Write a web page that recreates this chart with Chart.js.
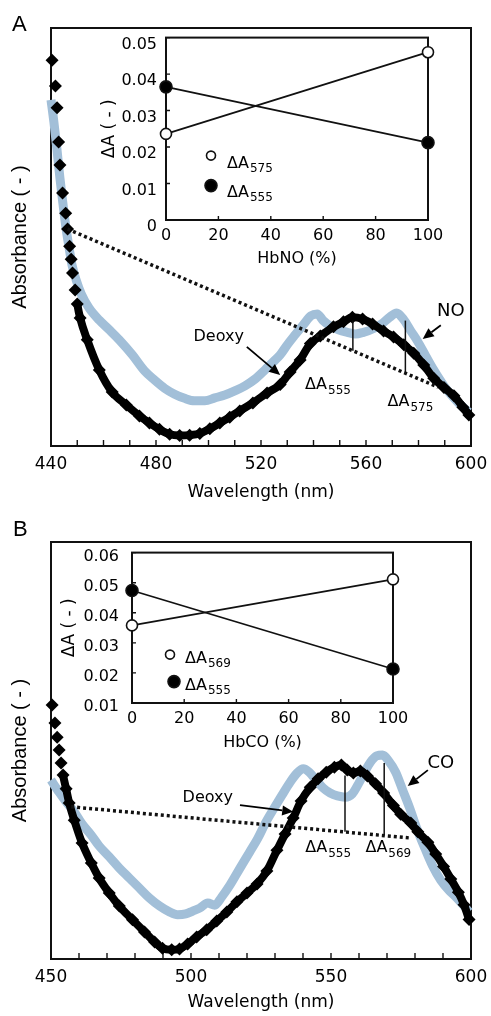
<!DOCTYPE html>
<html>
<head>
<meta charset="utf-8">
<title>Deoxy / NO / CO difference spectra</title>
<script src="https://cdn.jsdelivr.net/npm/chart.js@4.4.1/dist/chart.umd.min.js"></script>
<style>
  body { margin: 0; background: #fff; }
  #fig { position: relative; width: 491px; height: 1016px; overflow: hidden; }
  #fig canvas { position: absolute; }
  .panel { position: absolute; font: 22px "Liberation Sans", Arial, sans-serif; color: #000; }
</style>
</head>
<body>
<div id="fig">
  <canvas id="mainA" width="491" height="508" style="left:0;top:0"></canvas>
  <canvas id="insetA" width="353" height="240" style="left:95px;top:30px"></canvas>
  <canvas id="mainB" width="491" height="508" style="left:0;top:508px"></canvas>
  <canvas id="insetB" width="358" height="210" style="left:55px;top:545px"></canvas>
  <div class="panel" style="left:12px;top:11px">A</div>
  <div class="panel" style="left:13px;top:516px">B</div>
</div>
<script>
// ---- panel A: deoxy vs NO-bound spectra ----
const wlDeoxyA = [440.4, 441.7, 442.3, 442.9, 443.4, 444.4, 445.6, 446.3, 447.1, 447.7, 448.2, 449.2, 450.0, 451.1,
  453.8, 458.4, 463.3, 468.7, 473.7, 477.5, 481.3, 485.2, 489.0, 492.8, 496.7, 500.5, 504.3, 508.1, 511.9, 516.9,
  522.3, 527.3, 531.1, 534.9, 538.8, 542.6, 547.6, 551.4, 554.8, 558.7, 562.5, 566.7, 570.5, 574.4, 578.2, 582.0,
  585.8, 589.7, 593.5, 596.9, 599.2];
const absDeoxyA = [0.923, 0.861, 0.809, 0.727, 0.672, 0.605, 0.557, 0.519, 0.478, 0.447, 0.414, 0.373, 0.340, 0.306,
  0.254, 0.182, 0.129, 0.098, 0.072, 0.055, 0.040, 0.028, 0.025, 0.026, 0.030, 0.041, 0.055, 0.069, 0.084, 0.103,
  0.127, 0.147, 0.177, 0.206, 0.245, 0.263, 0.285, 0.297, 0.308, 0.304, 0.292, 0.275, 0.261, 0.242, 0.222, 0.194,
  0.162, 0.140, 0.120, 0.093, 0.074];
const wlNoA = [440.0, 441.1, 442.3, 443.4, 444.6, 445.7, 446.9, 448.0, 449.6, 451.5, 454.5, 458.4, 462.2, 466.0,
  471.0, 475.6, 479.4, 483.3, 487.1, 490.9, 494.7, 498.6, 502.4, 506.2, 510.0, 513.9, 517.7, 521.5, 524.6, 527.3,
  530.0, 533.0, 536.1, 539.1, 541.4, 543.7, 546.4, 549.5, 552.9, 556.0, 559.0, 562.5, 565.9, 569.0, 571.7, 574.4,
  577.0, 579.7, 582.8, 585.8, 589.7, 593.5, 596.9, 599.2];
const absNoA = [0.828, 0.775, 0.708, 0.641, 0.577, 0.522, 0.474, 0.433, 0.397, 0.364, 0.330, 0.301, 0.278, 0.254,
  0.218, 0.180, 0.158, 0.138, 0.124, 0.114, 0.108, 0.108, 0.115, 0.122, 0.132, 0.144, 0.160, 0.182, 0.201, 0.218,
  0.242, 0.266, 0.290, 0.312, 0.316, 0.300, 0.287, 0.278, 0.272, 0.268, 0.272, 0.280, 0.292, 0.308, 0.318, 0.302,
  0.276, 0.250, 0.215, 0.182, 0.144, 0.115, 0.093, 0.081];
const baseWlA = [446.3, 587.4];
const baseAbsA = [0.519, 0.141];
const markWlA = [555, 575];
const markLowA = [0.228, 0.174];
const markTopA = [0.300, 0.300];
const labelTicksA = [440, 480, 520, 560, 600];

// inset A: difference absorbance vs HbNO fraction
const hbno = [0, 100];
const dA575 = [0.0236, 0.0460];
const dA555no = [0.0365, 0.0212];

// ---- panel B: deoxy vs CO-bound spectra ----
const wlDeoxyB = [450.4, 451.4, 452.2, 452.9, 453.6, 454.3, 455.4, 456.5, 458.3, 461.1, 464.4, 467.2, 470.8, 474.4,
  479.1, 483.4, 487.0, 489.8, 493.1, 495.9, 498.8, 502.0, 505.6, 509.2, 512.8, 516.4, 520.0, 523.6, 527.1, 530.7,
  533.6, 536.5, 539.3, 542.6, 545.4, 548.3, 551.2, 553.7, 555.8, 558.0, 560.5, 563.0, 565.9, 568.8, 572.3, 574.9,
  578.5, 581.0, 584.6, 587.4, 590.2, 592.8, 595.5, 597.5, 599.3];
const absDeoxyB = [0.609, 0.566, 0.532, 0.501, 0.470, 0.441, 0.408, 0.374, 0.333, 0.278, 0.230, 0.194, 0.158, 0.127,
  0.094, 0.065, 0.041, 0.026, 0.022, 0.024, 0.036, 0.053, 0.070, 0.091, 0.113, 0.137, 0.158, 0.180, 0.211, 0.261,
  0.300, 0.338, 0.379, 0.412, 0.432, 0.448, 0.460, 0.465, 0.453, 0.446, 0.451, 0.439, 0.420, 0.398, 0.368, 0.347,
  0.326, 0.305, 0.280, 0.252, 0.222, 0.192, 0.160, 0.130, 0.095];
const wlCoB = [450.0, 452.9, 455.4, 458.3, 461.1, 464.4, 467.2, 470.8, 474.4, 478.0, 481.6, 485.2, 488.8, 492.3,
  495.2, 498.1, 500.6, 503.1, 506.0, 508.5, 511.0, 513.9, 517.5, 521.0, 523.9, 526.8, 529.7, 532.5, 535.4, 537.9,
  540.1, 542.2, 544.7, 547.2, 549.7, 552.3, 555.1, 557.6, 559.8, 562.0, 564.1, 566.3, 568.4, 570.6, 573.1, 575.6,
  578.1, 580.6, 583.5, 586.3, 589.2, 592.1, 595.0, 597.5, 599.3];
const absCoB = [0.429, 0.400, 0.377, 0.353, 0.324, 0.297, 0.271, 0.245, 0.218, 0.194, 0.170, 0.146, 0.127, 0.113,
  0.106, 0.108, 0.115, 0.122, 0.134, 0.129, 0.149, 0.177, 0.218, 0.257, 0.290, 0.329, 0.362, 0.393, 0.424, 0.446,
  0.456, 0.448, 0.429, 0.410, 0.398, 0.391, 0.388, 0.396, 0.420, 0.448, 0.472, 0.487, 0.489, 0.475, 0.448, 0.405,
  0.362, 0.314, 0.266, 0.223, 0.189, 0.165, 0.146, 0.127, 0.113];
const baseWlB = [457.2, 578.5];
const baseAbsB = [0.365, 0.290];
const markWlB = [555, 569];
const markLowB = [0.305, 0.296];
const markTopB = [0.440, 0.470];
const labelTicksB = [450, 500, 550, 600];

// inset B: difference absorbance vs HbCO fraction
const hbco = [0, 100];
const dA569 = [0.0358, 0.0511];
const dA555co = [0.0474, 0.0213];

const FONT = '"DejaVu Sans", Verdana, sans-serif';
Chart.defaults.font.family = FONT;
Chart.defaults.color = '#000';

const pts = (xs, ys) => xs.map((x, i) => ({ x, y: ys[i] }));
// where the trace falls almost vertically the markers stand apart, so no joining line there
const steep = c => Math.abs(c.p1.y - c.p0.y) > 5 * Math.abs(c.p1.x - c.p0.x);

function subText(ctx, main, sub, x, y, size) {
  ctx.textAlign = 'left';
  ctx.textBaseline = 'middle';
  ctx.font = size + 'px ' + FONT;
  ctx.fillText(main, x, y);
  const w = ctx.measureText(main).width;
  ctx.font = Math.round(size * 0.72) + 'px ' + FONT;
  ctx.fillText(sub, x + w + 1, y + size * 0.35);
}

function arrow(ctx, x0, y0, x1, y1) {
  const a = Math.atan2(y1 - y0, x1 - x0);
  const head = 11, half = 5;
  const c = Math.cos(a), s = Math.sin(a);
  ctx.lineWidth = 1.8;
  ctx.beginPath();
  ctx.moveTo(x0, y0);
  ctx.lineTo(x1 - head * c, y1 - head * s);
  ctx.stroke();
  ctx.beginPath();
  ctx.moveTo(x1, y1);
  ctx.lineTo(x1 - head * c + half * s, y1 - head * s - half * c);
  ctx.lineTo(x1 - head * c - half * s, y1 - head * s + half * c);
  ctx.closePath();
  ctx.fill();
}

// box round the plot area with short inward ticks
const framePlugin = {
  id: 'frame',
  beforeDatasetsDraw(chart, args, opts) {
    const { ctx, chartArea: a, scales } = chart;
    ctx.save();
    ctx.strokeStyle = '#111';
    ctx.lineWidth = opts.lineWidth || 2;
    ctx.strokeRect(a.left, a.top, a.right - a.left, a.bottom - a.top);
    ctx.lineWidth = 1.4;
    ctx.beginPath();
    scales.x.ticks.forEach(t => {
      const px = scales.x.getPixelForValue(t.value);
      ctx.moveTo(px, a.bottom);
      ctx.lineTo(px, a.bottom - opts.tick);
    });
    if (opts.yTicks) {
      scales.y.ticks.forEach(t => {
        const py = scales.y.getPixelForValue(t.value);
        ctx.moveTo(a.left, py);
        ctx.lineTo(a.left + opts.tick, py);
      });
    }
    ctx.stroke();
    ctx.restore();
  }
};

// text labels and arrows placed in data coordinates
function notesPlugin(notes) {
  return {
    id: 'notes',
    afterDatasetsDraw(chart) {
      const { ctx, scales: { x, y } } = chart;
      ctx.save();
      ctx.fillStyle = '#000';
      ctx.strokeStyle = '#000';
      notes.arrows.forEach(r => arrow(ctx,
        x.getPixelForValue(r.from[0]), y.getPixelForValue(r.from[1]),
        x.getPixelForValue(r.to[0]), y.getPixelForValue(r.to[1])));
      notes.labels.forEach(l => {
        const px = x.getPixelForValue(l.at[0]), py = y.getPixelForValue(l.at[1]);
        if (l.sub) {
          subText(ctx, l.text, l.sub, px, py, 16);
        } else {
          ctx.font = (l.size || 16) + 'px ' + FONT;
          ctx.textAlign = 'center';
          ctx.textBaseline = 'middle';
          ctx.fillText(l.text, px, py);
        }
      });
      ctx.restore();
    }
  };
}

// symbol key inside the inset, offsets from the plot area's top-left corner
function keyPlugin(items) {
  return {
    id: 'key',
    afterDatasetsDraw(chart) {
      const { ctx, chartArea: a } = chart;
      ctx.save();
      items.forEach(k => {
        ctx.beginPath();
        ctx.arc(a.left + k.dot[0], a.top + k.dot[1], k.filled ? 6 : 4.5, 0, Math.PI * 2);
        ctx.fillStyle = k.filled ? '#000' : '#fff';
        ctx.fill();
        ctx.lineWidth = 1.6;
        ctx.strokeStyle = '#111';
        ctx.stroke();
        ctx.fillStyle = '#000';
        subText(ctx, 'ΔA', k.sub, a.left + k.text[0], a.top + k.text[1], 16);
      });
      ctx.restore();
    }
  };
}

// pin the plot area: fixed axis thickness, no extra room for end labels
const fixX = h => s => { s.height = h; s.paddingLeft = 0; s.paddingRight = 0; };
const fixY = w => s => { s.width = w; s.paddingTop = 0; s.paddingBottom = 0; };

function spectrumChart(id, o) {
  const line = (wl, ab) => ({
    data: pts(wl, ab), borderColor: '#111', borderWidth: 1.5, pointRadius: 0, order: 0
  });
  const datasets = [
    Object.assign(line(o.baseWl, o.baseAbs), { borderWidth: 3.5, borderDash: [3, 3] }),
    line([o.markWl[0], o.markWl[0]], [o.markLow[0], o.markTop[0]]),
    line([o.markWl[1], o.markWl[1]], [o.markLow[1], o.markTop[1]]),
    {
      data: pts(o.wlDeoxy, o.absDeoxy),
      borderColor: '#000', backgroundColor: '#000', borderWidth: 8,
      pointStyle: 'rectRot', pointRadius: 6.5, pointBorderWidth: 0,
      cubicInterpolationMode: 'monotone', clip: false, order: 1,
      segment: { borderColor: c => steep(c) ? 'rgba(0,0,0,0)' : '#000' }
    },
    {
      data: pts(o.wlLig, o.absLig),
      borderColor: '#a2bfd8', borderWidth: 9, pointRadius: 0,
      cubicInterpolationMode: 'monotone', clip: false, order: 2
    }
  ];
  return new Chart(document.getElementById(id), {
    type: 'line',
    data: { datasets },
    options: {
      responsive: false, animation: false, events: [],
      layout: { padding: { top: o.top, right: 20, left: 0, bottom: 0 } },
      plugins: { legend: { display: false }, tooltip: { enabled: false }, frame: { lineWidth: 2, tick: 6 } },
      scales: {
        x: {
          type: 'linear', min: o.xmin, max: o.xmax,
          afterFit: fixX(o.xh),
          grid: { display: false, drawTicks: false }, border: { display: false },
          ticks: {
            stepSize: 10, autoSkip: false, maxRotation: 0, padding: 8, font: { size: 17 },
            callback: v => o.labelTicks.includes(v) ? String(v) : ''
          },
          title: { display: true, text: 'Wavelength (nm)', font: { size: 17 }, padding: { top: 0, bottom: o.titlePad } }
        },
        y: {
          min: 0, max: 1,
          afterFit: fixY(51),
          grid: { display: false, drawTicks: false }, border: { display: false },
          ticks: { display: false },
          title: {
            display: true, text: 'Absorbance ( - )',
            font: { family: '"Liberation Sans", Arial, sans-serif', size: 20 },
            padding: { top: 8, bottom: 0 }
          }
        }
      }
    },
    plugins: [framePlugin, notesPlugin(o.notes)]
  });
}

function insetChart(id, o) {
  const series = (ys, fill, r) => ({
    data: pts(o.pct, ys), borderColor: '#111', borderWidth: 1.8,
    pointRadius: r, pointBackgroundColor: fill, pointBorderColor: '#111', pointBorderWidth: 1.6, clip: false
  });
  return new Chart(document.getElementById(id), {
    type: 'line',
    data: { datasets: [series(o.open, '#fff', 5.5), series(o.filled, '#000', 6)] },
    options: {
      responsive: false, animation: false, events: [],
      layout: { padding: { top: o.top, right: 20, left: 0, bottom: 0 } },
      plugins: { legend: { display: false }, tooltip: { enabled: false }, frame: { lineWidth: 2, tick: 4, yTicks: true } },
      scales: {
        x: {
          type: 'linear', min: 0, max: 100,
          afterFit: fixX(o.xh),
          grid: { display: false, drawTicks: false }, border: { display: false },
          ticks: { stepSize: 20, maxRotation: 0, padding: 6, font: { size: 16 } },
          title: { display: true, text: o.xTitle, font: { size: 16 }, padding: { top: 0, bottom: o.titlePad } }
        },
        y: {
          min: o.ymin, max: o.ymax,
          afterFit: fixY(o.yw),
          grid: { display: false, drawTicks: false }, border: { display: false },
          ticks: {
            stepSize: 0.01, padding: o.ypad, labelOffset: o.labelOffset, font: { size: 16 },
            callback: v => v === 0 ? '0' : v.toFixed(2)
          },
          title: { display: true, text: 'ΔA ( - )', font: { size: 17 }, padding: { top: 4, bottom: 0 } }
        }
      }
    },
    plugins: [framePlugin, keyPlugin(o.key)]
  });
}

spectrumChart('mainA', {
  wlDeoxy: wlDeoxyA, absDeoxy: absDeoxyA, wlLig: wlNoA, absLig: absNoA,
  baseWl: baseWlA, baseAbs: baseAbsA, markWl: markWlA, markLow: markLowA, markTop: markTopA,
  xmin: 440, xmax: 600, labelTicks: labelTicksA, top: 28, xh: 62, titlePad: 5,
  notes: {
    arrows: [
      { from: [514.6, 0.237], to: [527.3, 0.170] },
      { from: [588.5, 0.289], to: [581.6, 0.256] }
    ],
    labels: [
      { text: 'Deoxy', at: [503.9, 0.261] },
      { text: 'NO', at: [592.3, 0.323], size: 18 },
      { text: 'ΔA', sub: '555', at: [536.8, 0.146] },
      { text: 'ΔA', sub: '575', at: [568.2, 0.105] }
    ]
  }
});

insetChart('insetA', {
  pct: hbno, open: dA575, filled: dA555no, xTitle: 'HbNO (%)',
  ymin: 0, ymax: 0.05, top: 7, xh: 50, yw: 71, ypad: 9, labelOffset: 7, titlePad: 2,
  key: [
    { dot: [45, 118], text: [61, 126], sub: '575', filled: false },
    { dot: [45, 148], text: [61, 155], sub: '555', filled: true }
  ]
});

spectrumChart('mainB', {
  wlDeoxy: wlDeoxyB, absDeoxy: absDeoxyB, wlLig: wlCoB, absLig: absCoB,
  baseWl: baseWlB, baseAbs: baseAbsB, markWl: markWlB, markLow: markLowB, markTop: markTopB,
  xmin: 450, xmax: 600, labelTicks: labelTicksB, top: 34, xh: 57, titlePad: 3,
  notes: {
    arrows: [
      { from: [517.5, 0.369], to: [536.5, 0.353] },
      { from: [584.6, 0.453], to: [577.4, 0.415] }
    ],
    labels: [
      { text: 'Deoxy', at: [506.0, 0.386] },
      { text: 'CO', at: [589.2, 0.470], size: 18 },
      { text: 'ΔA', sub: '555', at: [540.8, 0.266] },
      { text: 'ΔA', sub: '569', at: [562.3, 0.266] }
    ]
  }
});

insetChart('insetB', {
  pct: hbco, open: dA569, filled: dA555co, xTitle: 'HbCO (%)',
  ymin: 0.01, ymax: 0.06, top: 7, xh: 52, yw: 77, ypad: 13, labelOffset: 4, titlePad: 3,
  key: [
    { dot: [38, 102], text: [53, 106], sub: '569', filled: false },
    { dot: [42, 129], text: [53, 133], sub: '555', filled: true }
  ]
});
</script>
</body>
</html>
